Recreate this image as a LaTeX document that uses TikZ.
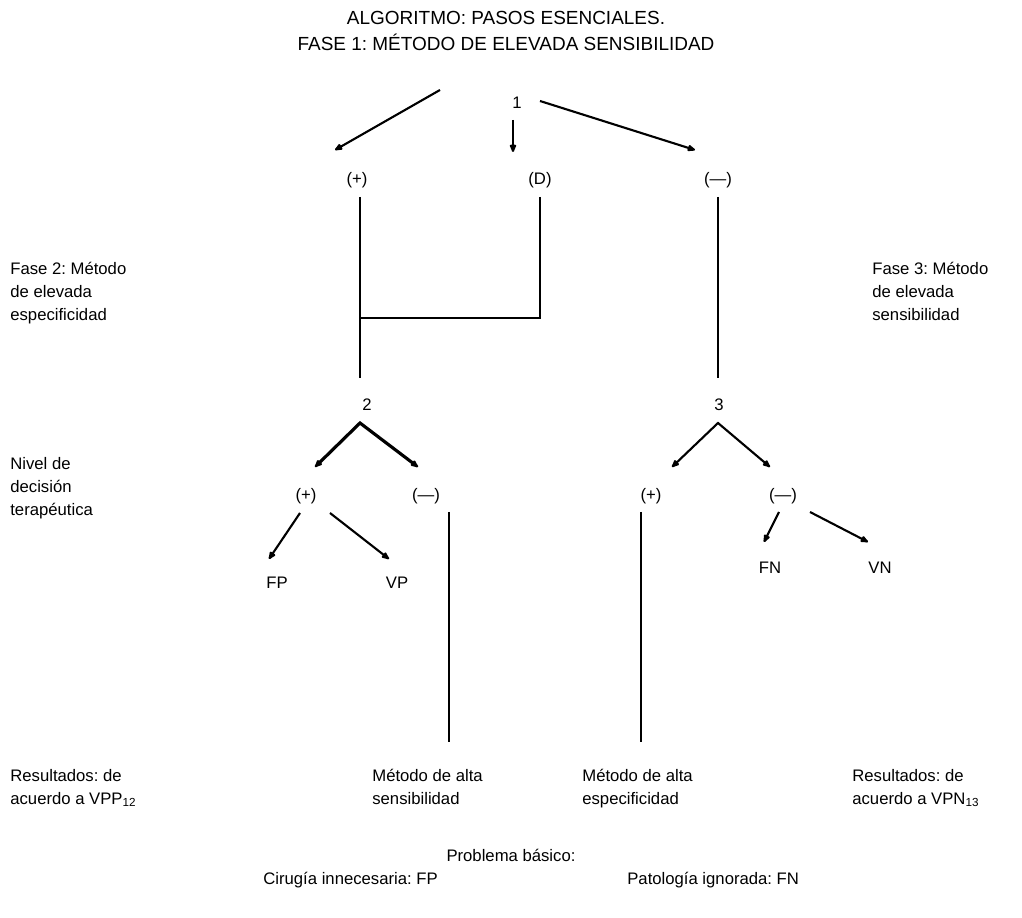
\documentclass[tikz,border=0pt]{standalone}
\usepackage{fontspec}
\setmainfont{Liberation Sans}
\usetikzlibrary{arrows.meta,calc}
\frenchspacing
\begin{document}
\begin{tikzpicture}[x=0.02cm,y=-0.02cm,
  lbl/.style={inner sep=0pt,font=\fontsize{9.5}{13}\selectfont},
  blk/.style={lbl,align=left,anchor=north west},
  tip/.tip={Latex[length=6pt,width=4.5pt,round]},
  arr/.style={line width=1.2pt,-tip},
  barr/.style={line width=1.8pt,tip-tip},
  marr/.style={line width=1.2pt,tip-tip},
  stem/.style={line width=1.2pt},
  thin/.style={line width=0.7pt}]
\useasboundingbox (0,0) rectangle (1022,918);

% heading
\node[inner sep=0pt,align=center,font=\fontsize{10.8}{15}\selectfont] (head) at (506,31)
  {ALGORITMO: PASOS ESENCIALES.\\FASE 1: MÉTODO DE ELEVADA SENSIBILIDAD};

% first level
\node[lbl] (n1) at (517,103) {1};
\node[lbl] (p1) at (357,180) {(+)};
\node[lbl] (d1) at (540,180) {(D)};
\node[lbl] (m1) at (718,180) {(—)};

\draw[arr] ($(n1)+(-77,-13)$) -- ($(p1)+(-22,-30)$);
\draw[arr] ($(n1)+(-4,17)$) -- ($(d1)+(-27,-28)$);
\draw[arr] ($(n1)+(23,-2)$) -- ($(m1)+(-23,-30)$);

% second level
\node[lbl] (n2) at (367,405) {2};
\node[lbl] (n3) at (719,405) {3};

\draw[stem] ($(p1)+(3,17)$) coordinate (p1s) -- ($(n2)+(-7,-27)$);
\draw[thin] ($(d1)+(0,17)$) |- (p1s |- 0,318);
\draw[stem] ($(m1)+(0,17)$) -- ($(n3)+(-1,-27)$);

\node[lbl] (p2) at (306,496) {(+)};
\node[lbl] (m2) at (426,496) {(—)};
\node[lbl] (p3) at (651,496) {(+)};
\node[lbl] (m3) at (783,496) {(—)};

\draw[barr] ($(p2)+(9,-29)$) -- ($(n2)+(-7,18)$) -- ($(m2)+(-8,-29)$);
\draw[marr] ($(p3)+(21,-29)$) -- ($(n3)+(-1,18)$) -- ($(m3)+(-13,-29)$);

% outcomes
\node[lbl] (fp) at (277,583) {FP};
\node[lbl] (vp) at (397,583) {VP};
\node[lbl] (fn) at (770,568) {FN};
\node[lbl] (vn) at (880,568) {VN};

\draw[arr] ($(p2)+(-6,17)$) -- ($(fp)+(-8,-24)$);
\draw[arr] ($(p2)+(24,17)$) -- ($(vp)+(-8,-24)$);
\draw[arr] ($(m3)+(-4,16)$) -- ($(fn)+(-6,-26)$);
\draw[arr] ($(m3)+(27,16)$) -- ($(vn)+(-12,-26)$);

\draw[stem] ($(m2)+(23,16)$) coordinate (m2s) -- (m2s |- 0,742);
\draw[stem] ($(p3)+(-10,16)$) coordinate (p3s) -- (p3s |- 0,742);

% side texts
\node[blk] (f2) at (10,262) {Fase 2: Método\\de elevada\\especificidad};
\node[blk] (nv) at (10,457) {Nivel de\\decisión\\terapéutica};
\node[blk] (f3) at (872,262) {Fase 3: Método\\de elevada\\sensibilidad};

% bottom texts
\node[blk] (r1) at (10,769) {Resultados: de\\acuerdo a VPP\textsubscript{12}};
\node[blk] (ms) at (372,769) {Método de alta\\sensibilidad};
\node[blk] (me) at (582,769) {Método de alta\\especificidad};
\node[blk] (r2) at (852,769) {Resultados: de\\acuerdo a VPN\textsubscript{13}};

\node[lbl] (pb) at (511,855) {Problema básico:};
\node[lbl,anchor=west] (ci) at (263,880) {Cirugía innecesaria: FP};
\node[lbl,anchor=west] (pi) at (627,880) {Patología ignorada: FN};
\end{tikzpicture}
\end{document}
